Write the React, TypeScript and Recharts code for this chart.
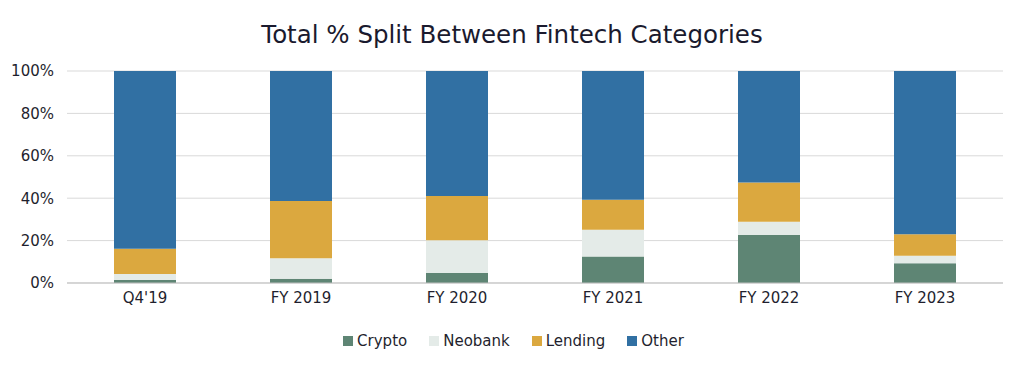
import { Bar, BarChart, CartesianGrid, Legend, XAxis, YAxis } from "recharts";

const periods = ["Q4'19", "FY 2019", "FY 2020", "FY 2021", "FY 2022", "FY 2023"];
const crypto = [1.4, 2.0, 4.7, 12.5, 22.6, 9.3];
const neobank = [2.9, 9.7, 15.5, 12.6, 6.3, 3.5];
const lending = [11.8, 27.0, 20.8, 14.2, 18.5, 10.2];
const other = [83.9, 61.3, 59.0, 60.7, 52.6, 77.0];
const yTicks = [0, 20, 40, 60, 80, 100];

const series = [
  { key: "crypto", name: "Crypto", color: "#5e8574" },
  { key: "neobank", name: "Neobank", color: "#e4ebe8" },
  { key: "lending", name: "Lending", color: "#dba83f" },
  { key: "other", name: "Other", color: "#3170a3" },
];

const data = periods.map((p, i) => ({
  period: p,
  crypto: crypto[i],
  neobank: neobank[i],
  lending: lending[i],
  other: other[i],
}));

const FONT = "'DejaVu Sans', sans-serif";

function LegendContent() {
  return (
    <div
      style={{
        display: "flex",
        justifyContent: "center",
        gap: 22,
        paddingLeft: 24,
        fontFamily: FONT,
        fontSize: 15,
        color: "#1f1f2e",
      }}
    >
      {series.map((s) => (
        <span key={s.key} style={{ display: "flex", alignItems: "center" }}>
          <span style={{ width: 10, height: 10, background: s.color, marginRight: 4, display: "inline-block" }} />
          {s.name}
        </span>
      ))}
    </div>
  );
}

export default function App() {
  return (
    <div style={{ position: "absolute", left: 0, top: 0, width: 1024, height: 366, background: "#fff" }}>
      <div
        style={{
          position: "absolute",
          top: 20,
          width: 1024,
          textAlign: "center",
          fontFamily: FONT,
          fontSize: 24.5,
          color: "#1a1a2e",
        }}
      >
        Total % Split Between Fintech Categories
      </div>
      <BarChart
        width={1024}
        height={366}
        data={data}
        margin={{ top: 71, right: 21, left: 0, bottom: 16 }}
        barCategoryGap={47}
      >
        <CartesianGrid vertical={false} stroke="#d9d9d9" />
        <XAxis
          dataKey="period"
          tickLine={false}
          axisLine={{ stroke: "#bfbfbf" }}
          tick={{ fontSize: 15, fill: "#1f1f2e", fontFamily: FONT }}
          tickMargin={3}
          height={49}
        />
        <YAxis
          width={67}
          domain={[0, 100]}
          ticks={yTicks}
          tickFormatter={(v) => `${v}%`}
          axisLine={false}
          tickLine={false}
          tick={{ fontSize: 15, fill: "#1f1f2e", fontFamily: FONT }}
          tickMargin={7}
        />
        <Legend verticalAlign="bottom" content={<LegendContent />} />
        {series.map((s) => (
          <Bar key={s.key} dataKey={s.key} name={s.name} stackId="a" fill={s.color} isAnimationActive={false} />
        ))}
      </BarChart>
    </div>
  );
}
